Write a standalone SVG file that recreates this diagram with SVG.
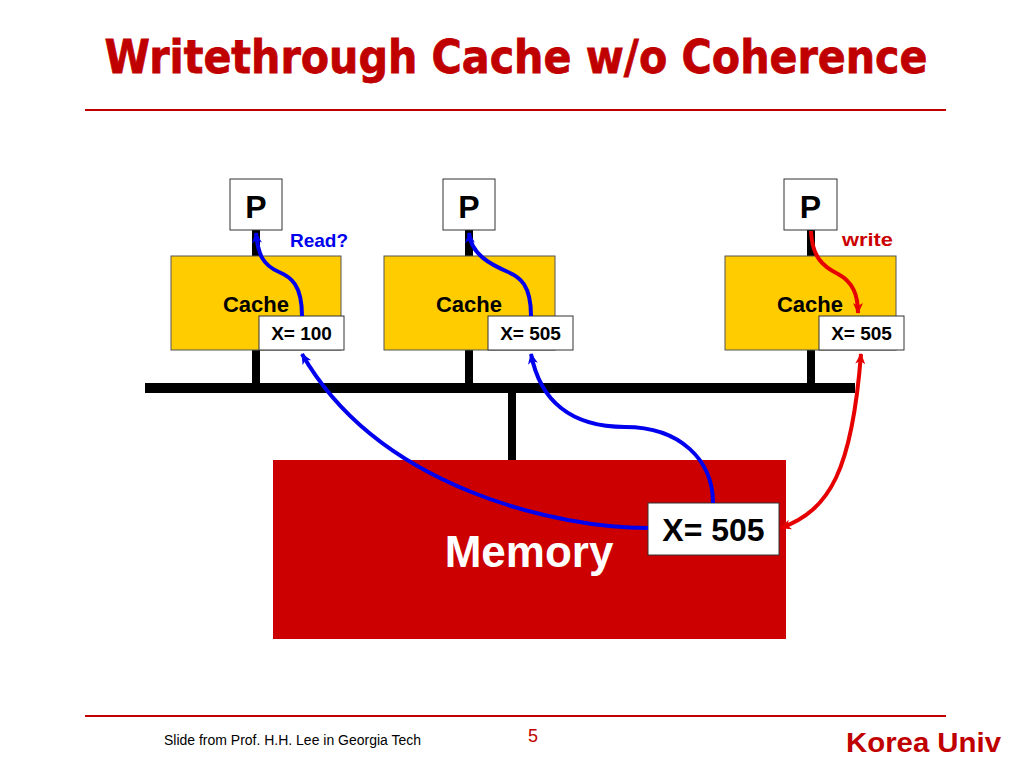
<svg xmlns="http://www.w3.org/2000/svg" width="1024" height="768" viewBox="0 0 1024 768">
<style>
.t{font-family:"Liberation Sans",Arial,sans-serif;font-weight:bold}
.box{fill:#fff;stroke:#333;stroke-width:1}
.cache{fill:#FFCC00;stroke:#555;stroke-width:1}
.bus{fill:#000}
.blue{fill:none;stroke:#0000EE;stroke-width:4}
.red{fill:none;stroke:#E60000;stroke-width:4}
.rule{stroke:#C00000;stroke-width:2}
</style>
<defs>
<marker id="ab" markerUnits="userSpaceOnUse" markerWidth="12" markerHeight="12" viewBox="0 0 12 12" refX="10" refY="6" orient="auto"><path d="M0,1 L11,6 L0,11 L3,6 Z" fill="#0000EE"/></marker>
<marker id="ar" markerUnits="userSpaceOnUse" markerWidth="12" markerHeight="12" viewBox="0 0 12 12" refX="10" refY="6" orient="auto"><path d="M0,1 L11,6 L0,11 L3,6 Z" fill="#E60000"/></marker>
<marker id="ars" markerUnits="userSpaceOnUse" markerWidth="12" markerHeight="12" viewBox="0 0 12 12" refX="2" refY="6" orient="auto"><path d="M12,1 L1,6 L12,11 L9,6 Z" fill="#E60000"/></marker>
</defs>
<rect width="1024" height="768" fill="#fff"/>
<text class="t" x="516" y="73" font-size="46" fill="#C00000" text-anchor="middle" textLength="823" lengthAdjust="spacingAndGlyphs" stroke="#C00000" stroke-width="0.8" style="font-family:'DejaVu Sans',Verdana,sans-serif">Writethrough Cache w/o Coherence</text>
<line class="rule" x1="85" y1="110" x2="946" y2="110"/>
<g id="bus">
<rect class="bus" x="145" y="383" width="710" height="10"/>
<rect class="bus" x="252" y="229" width="8" height="155"/>
<rect class="bus" x="465" y="229" width="8" height="155"/>
<rect class="bus" x="807" y="229" width="8" height="155"/>
<rect class="bus" x="508" y="392" width="8" height="69"/>
</g>
<g id="p1"><rect class="box" x="230" y="179" width="52" height="51"/><text class="t" x="256" y="218" font-size="32" text-anchor="middle">P</text></g>
<g id="p2"><rect class="box" x="443" y="179" width="52" height="51"/><text class="t" x="469" y="218" font-size="32" text-anchor="middle">P</text></g>
<g id="p3"><rect class="box" x="784" y="179" width="53" height="51"/><text class="t" x="810.5" y="218" font-size="32" text-anchor="middle">P</text></g>
<g id="cache1"><rect class="cache" x="171" y="256" width="170" height="94"/><text class="t" x="256" y="312" font-size="22" text-anchor="middle">Cache</text></g>
<g id="cache2"><rect class="cache" x="384" y="256" width="171" height="94"/><text class="t" x="469" y="312" font-size="22" text-anchor="middle">Cache</text></g>
<g id="cache3"><rect class="cache" x="725" y="256" width="171" height="94"/><text class="t" x="810" y="312" font-size="22" text-anchor="middle">Cache</text></g>
<g id="x1"><rect class="box" x="259" y="316" width="85" height="34"/><text class="t" x="301.5" y="340" font-size="19" text-anchor="middle">X= 100</text></g>
<g id="x2"><rect class="box" x="488" y="316" width="85" height="34"/><text class="t" x="530.5" y="340" font-size="19" text-anchor="middle">X= 505</text></g>
<g id="x3"><rect class="box" x="819" y="316" width="85" height="34"/><text class="t" x="861.5" y="340" font-size="19" text-anchor="middle">X= 505</text></g>
<g id="memory"><rect x="273" y="460" width="513" height="179" fill="#CC0000"/><text class="t" x="529" y="567" font-size="44" fill="#fff" text-anchor="middle">Memory</text></g>
<g id="mx"><rect class="box" x="648" y="503" width="131" height="52"/><text class="t" x="713.5" y="541" font-size="32" text-anchor="middle">X= 505</text></g>
<text class="t" x="290" y="247" font-size="19" fill="#0000EE">Read?</text>
<text class="t" x="842" y="246" font-size="19" fill="#CC0000" textLength="51" lengthAdjust="spacingAndGlyphs">write</text>
<g id="connectors">
<path class="blue" marker-end="url(#ab)" d="M302 316 C302 285 291 277 279 272 C263 265 258 255 256 233"/>
<path class="blue" marker-end="url(#ab)" d="M531 316 C531 285 520 277 508 272 C492 265 471 255 469 233"/>
<path class="blue" marker-end="url(#ab)" d="M648 528 C560 528 380 490 302 354"/>
<path class="blue" marker-end="url(#ab)" d="M713 503 C713 460 680 427 625 427 C570 427 540 400 531 354"/>
<path class="red" marker-end="url(#ar)" d="M811 231 C812 258 824 267 838 274 C853 282 858 295 858 313"/>
<path class="red" marker-start="url(#ars)" marker-end="url(#ar)" d="M781 528 C830 510 852 470 861 354"/>
</g>
<line class="rule" x1="85" y1="716" x2="946" y2="716"/>
<text x="164" y="745" font-size="14" font-family="'Liberation Sans',Arial,sans-serif" textLength="257" lengthAdjust="spacingAndGlyphs">Slide from Prof. H.H. Lee in Georgia Tech</text>
<text x="533" y="742" font-size="18" fill="#C00000" text-anchor="middle" font-family="'Liberation Sans',Arial,sans-serif">5</text>
<text class="t" x="846" y="752" font-size="28" fill="#C00000" textLength="155" lengthAdjust="spacingAndGlyphs">Korea Univ</text>
</svg>
